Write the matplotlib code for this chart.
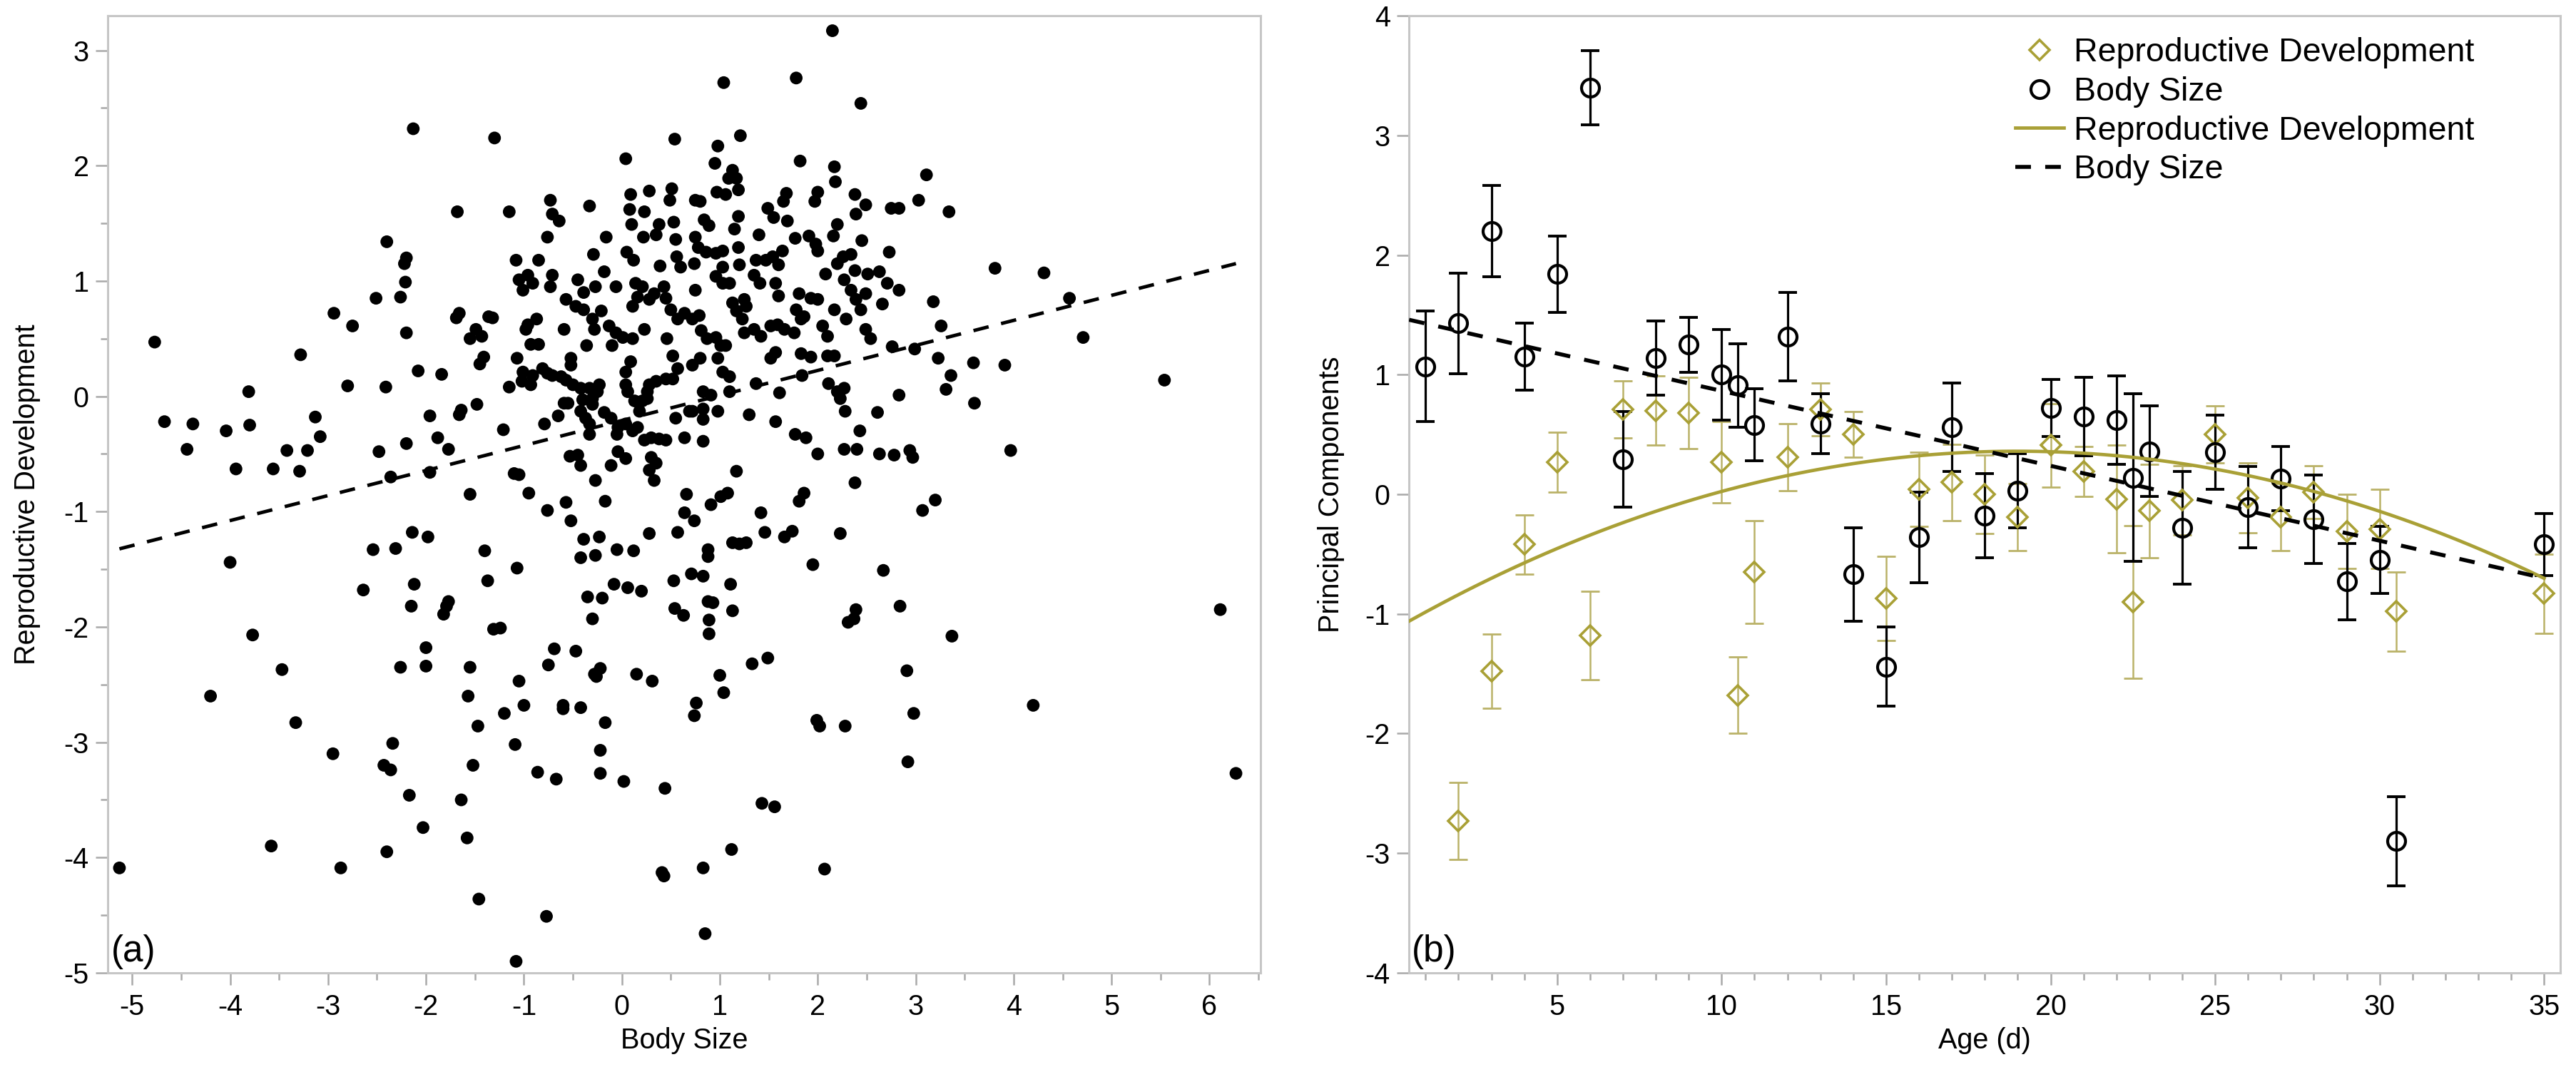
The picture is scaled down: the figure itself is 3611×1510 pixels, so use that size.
import numpy as np
import matplotlib.pyplot as plt
from matplotlib.ticker import MultipleLocator
from matplotlib.lines import Line2D

plt.rcParams["font.family"] = ["Liberation Sans", "DejaVu Sans"]
plt.rcParams["axes.unicode_minus"] = False

OLIVE = "#a9a036"
OLIVE_BAR = "#bab268"
SPINE = "#c6c6c6"
TICK = "#a9a9a9"

# ---- panel (a): individual scores (body size, reproductive development) ----
scatter_pts = np.array([
    # far left, above -1.27
    (-4.77, 0.47), (-2.13, 2.32), (-4.67, -0.22), (-4.38, -0.24), (-4.44, -0.46),
    (-4.04, -0.30), (-3.81, 0.04), (-3.80, -0.25), (-3.94, -0.63), (-3.56, -0.63),
    (-3.29, -0.65), (-3.42, -0.47), (-3.21, -0.47), (-3.28, 0.36), (-3.13, -0.18),
    (-3.08, -0.35), (-2.94, 0.72), (-2.75, 0.61), (-2.80, 0.09), (-2.51, 0.85),
    (-2.41, 0.08), (-2.48, -0.48), (-2.40, 1.34), (-2.26, 0.86), (-2.21, 0.99),
    (-2.22, 1.15), (-2.20, 1.20), (-2.20, 0.55), (-2.08, 0.22), (-2.20, -0.41),
    (-1.96, -0.17), (-2.36, -0.70), (-2.14, -1.18), (-1.98, -1.22), (-1.96, -0.66),
    # lower half, left
    (-4.00, -1.44), (-2.54, -1.33), (-2.31, -1.32), (-2.64, -1.68), (-2.12, -1.63),
    (-2.15, -1.82), (-1.77, -1.78), (-1.79, -1.82), (-1.82, -1.89), (-1.40, -1.34),
    (-1.37, -1.60), (-1.07, -1.49), (-1.31, -2.02), (-1.24, -2.01), (-2.00, -2.18),
    (-2.00, -2.34), (-2.26, -2.35), (-1.55, -2.35), (-1.57, -2.60), (-1.05, -2.47),
    (-1.00, -2.68), (-1.20, -2.75), (-1.47, -2.86), (-1.09, -3.02), (-1.52, -3.20),
    (-0.86, -3.26), (-0.67, -3.32), (-1.64, -3.50), (-1.58, -3.83), (-1.46, -4.36),
    (-0.77, -4.51), (-1.08, -4.90), (-2.03, -3.74), (-2.17, -3.46), (-2.40, -3.95),
    (-2.43, -3.20), (-2.36, -3.24), (-2.34, -3.01), (-2.95, -3.10), (-2.87, -4.09),
    (-3.58, -3.90), (-3.33, -2.83), (-3.47, -2.37), (-4.20, -2.60), (-3.77, -2.07),
    (-5.13, -4.09), (-0.75, -2.33), (-0.69, -2.19), (-0.47, -2.21), (-0.60, -2.68),
    (-0.60, -2.71), (-0.42, -2.70), (-0.17, -2.83), (-0.28, -2.41), (-0.22, -2.36),
    (-0.26, -2.43), (-0.22, -3.07), (-0.22, -3.27), (0.02, -3.34), (0.44, -3.40),
    (0.15, -2.41), (0.31, -2.47), (-0.30, -1.93), (-0.35, -1.74), (-0.20, -1.75),
    (-0.08, -1.63), (0.06, -1.66), (0.20, -1.69), (-0.05, -1.33), (0.12, -1.34),
    (-0.42, -1.40), (-0.27, -1.38), (0.53, -1.60), (0.71, -1.54), (0.83, -1.56),
    (0.54, -1.84), (0.63, -1.90), (0.76, -2.66), (0.74, -2.77), (0.41, -4.13),
    (0.43, -4.16), (0.83, -4.09), (0.85, -4.66), (0.88, -1.78), (0.89, -1.94),
    (0.89, -2.06), (0.88, -1.33), (0.88, -1.39),
    # lower half, right
    (1.13, -1.27), (1.20, -1.28), (1.27, -1.27), (1.95, -1.46), (2.67, -1.51),
    (1.11, -1.63), (0.93, -1.79), (1.13, -1.86), (2.84, -1.82), (2.39, -1.85),
    (2.37, -1.93), (2.31, -1.96), (3.37, -2.08), (6.11, -1.85), (1.49, -2.27),
    (1.33, -2.32), (1.00, -2.42), (1.04, -2.57), (2.91, -2.38), (4.20, -2.68),
    (2.98, -2.75), (1.99, -2.81), (2.02, -2.86), (2.28, -2.86), (2.92, -3.17),
    (6.27, -3.27), (1.43, -3.53), (1.56, -3.56), (1.12, -3.93), (2.07, -4.10),
    # far right and top
    (2.15, 3.17), (3.81, 1.11), (4.31, 1.07), (4.57, 0.85), (4.71, 0.51),
    (5.54, 0.14), (3.97, -0.47), (3.91, 0.27), (3.59, 0.29), (3.60, -0.06),
    # dense centre, left part
    (-1.30, 2.24), (0.54, 2.23), (0.04, 2.06), (-1.68, 1.60), (-1.15, 1.60),
    (-0.73, 1.70), (-0.71, 1.58), (-0.64, 1.52), (-0.33, 1.65), (0.09, 1.75),
    (0.28, 1.78), (0.51, 1.80), (0.49, 1.70), (0.08, 1.62), (0.23, 1.60),
    (0.10, 1.49), (0.38, 1.49), (0.35, 1.40), (0.53, 1.51), (0.55, 1.36),
    (0.22, 1.38), (-0.76, 1.38), (-0.16, 1.38), (-0.29, 1.23), (0.05, 1.25),
    (0.12, 1.18), (0.39, 1.13), (0.56, 1.21), (0.60, 1.12), (-1.08, 1.18),
    (-0.85, 1.18), (-1.05, 1.01), (-0.96, 1.05), (-1.01, 0.92), (-0.91, 0.98),
    (-0.71, 1.05), (-0.73, 0.95), (-0.45, 1.01), (-0.39, 0.90), (-0.27, 0.95),
    (-0.18, 1.08), (-0.06, 0.95), (-0.57, 0.84), (-0.47, 0.78), (-0.39, 0.75),
    (-0.21, 0.74), (-0.30, 0.67), (-0.28, 0.58), (-0.13, 0.61), (-0.06, 0.55),
    (0.01, 0.51), (-0.10, 0.44), (0.11, 0.50), (-0.36, 0.44), (0.23, 0.58),
    (0.14, 0.98), (0.21, 0.95), (0.16, 0.86), (0.11, 0.78), (0.28, 0.84),
    (0.33, 0.89), (0.43, 0.95), (0.45, 0.85), (0.50, 0.75), (0.57, 0.67),
    (0.64, 0.72), (0.46, 0.50), (0.52, 0.35), (0.57, 0.24), (0.52, 0.15),
    (0.45, 0.15), (0.35, 0.13), (0.28, 0.10), (0.26, 0.04), (0.09, 0.30),
    (0.04, 0.21), (0.04, 0.10), (0.06, 0.04), (0.13, -0.04), (0.21, -0.04),
    (0.26, -0.02), (0.18, -0.13), (0.55, -0.19), (0.69, -0.13), (0.64, -0.36),
    (-1.66, 0.72), (-1.69, 0.68), (-1.36, 0.69), (-1.32, 0.68), (-1.49, 0.58),
    (-1.55, 0.50), (-1.43, 0.52), (-1.45, 0.28), (-1.41, 0.34), (-0.96, 0.62),
    (-0.87, 0.67), (-0.98, 0.58), (-0.93, 0.45), (-0.85, 0.45), (-0.59, 0.58),
    (-1.07, 0.33), (-0.52, 0.33), (-0.52, 0.27), (-1.01, 0.21), (-0.91, 0.18),
    (-0.81, 0.24), (-0.76, 0.20), (-0.71, 0.18), (-0.62, 0.17), (-0.57, 0.14),
    (-0.50, 0.10), (-0.42, 0.07), (-0.33, 0.07), (-0.25, 0.04), (-0.23, 0.10),
    (-1.15, 0.08), (-1.02, 0.13), (-0.93, 0.10), (-1.84, 0.19), (-1.64, -0.12),
    (-1.66, -0.16), (-1.48, -0.07), (-1.88, -0.36), (-1.77, -0.46), (-1.21, -0.29),
    (-1.10, -0.67), (-1.05, -0.68), (-1.55, -0.85), (-0.95, -0.84), (-0.76, -0.99),
    (-0.57, -0.92), (-0.52, -1.08), (-0.79, -0.24), (-0.65, -0.17), (-0.59, -0.06),
    (-0.55, -0.06), (-0.42, -0.13), (-0.37, -0.19), (-0.33, -0.24), (-0.33, -0.33),
    (-0.30, -0.07), (-0.40, -0.03), (-0.30, -0.02), (-0.18, -0.14), (-0.11, -0.19),
    (-0.04, -0.27), (0.04, -0.24), (0.11, -0.30), (0.16, -0.27), (-0.05, -0.33),
    (0.23, -0.38), (0.30, -0.36), (0.38, -0.37), (0.45, -0.38), (0.30, -0.53),
    (0.35, -0.58), (0.28, -0.64), (0.33, -0.73), (-0.53, -0.52), (-0.45, -0.51),
    (-0.42, -0.60), (-0.11, -0.60), (-0.04, -0.48), (0.04, -0.54), (-0.27, -0.73),
    (-0.17, -0.91), (0.66, -0.85), (0.64, -1.01), (0.28, -1.19), (0.57, -1.18),
    (-0.39, -1.24), (-0.23, -1.22),
    # dense centre, right part
    (1.04, 2.72), (1.78, 2.76), (2.44, 2.54), (1.21, 2.26), (0.98, 2.17),
    (0.95, 2.02), (1.82, 2.04), (2.17, 1.99), (2.18, 1.86), (3.11, 1.92),
    (1.13, 1.96), (1.09, 1.89), (1.17, 1.89), (0.97, 1.77), (1.06, 1.75),
    (1.19, 1.79), (0.75, 1.70), (0.80, 1.69), (1.68, 1.76), (1.65, 1.69),
    (2.00, 1.77), (1.97, 1.69), (2.38, 1.75), (2.49, 1.66), (2.39, 1.58),
    (2.75, 1.63), (2.83, 1.63), (3.03, 1.70), (3.34, 1.60), (1.49, 1.63),
    (1.55, 1.55), (1.69, 1.52), (0.84, 1.53), (0.89, 1.48), (1.19, 1.56),
    (1.15, 1.45), (1.40, 1.40), (1.77, 1.37), (1.91, 1.39), (1.98, 1.32),
    (2.00, 1.26), (2.20, 1.49), (2.16, 1.39), (2.45, 1.35), (2.73, 1.25),
    (0.75, 1.38), (0.78, 1.29), (0.86, 1.25), (0.96, 1.24), (1.03, 1.26),
    (1.19, 1.29), (0.74, 1.15), (1.20, 1.14), (1.37, 1.18), (1.47, 1.18),
    (1.54, 1.21), (1.64, 1.26), (1.60, 1.14), (1.03, 1.12), (0.96, 1.04),
    (1.03, 0.98), (1.10, 0.98), (1.35, 1.05), (1.41, 0.98), (2.08, 1.06),
    (2.20, 1.15), (2.26, 1.21), (2.34, 1.23), (2.38, 1.09), (2.51, 1.06),
    (2.63, 1.08), (2.27, 1.01), (2.34, 0.92), (2.39, 0.84), (2.49, 0.89),
    (2.44, 0.75), (2.71, 0.98), (2.83, 0.92), (2.66, 0.80), (3.18, 0.82),
    (0.75, 0.92), (1.57, 0.98), (1.60, 0.87), (1.81, 0.89), (1.93, 0.85),
    (2.00, 0.84), (1.13, 0.81), (1.25, 0.84), (1.17, 0.74), (1.23, 0.67),
    (1.27, 0.78), (1.78, 0.75), (1.83, 0.67), (1.86, 0.69), (2.17, 0.75),
    (2.29, 0.67), (0.72, 0.67), (0.79, 0.70), (0.81, 0.57), (0.87, 0.50),
    (0.96, 0.51), (1.06, 0.44), (1.01, 0.44), (1.25, 0.55), (1.35, 0.58),
    (1.42, 0.52), (1.52, 0.61), (1.59, 0.62), (1.66, 0.58), (1.76, 0.55),
    (2.05, 0.61), (2.10, 0.52), (2.49, 0.58), (2.54, 0.50), (3.26, 0.61),
    (0.72, 0.27), (0.80, 0.33), (0.98, 0.33), (1.03, 0.21), (1.10, 0.17),
    (1.52, 0.33), (1.57, 0.38), (1.83, 0.37), (1.93, 0.34), (2.10, 0.35),
    (2.17, 0.35), (2.76, 0.43), (2.99, 0.41), (3.23, 0.33), (3.36, 0.18),
    (3.31, 0.06), (1.37, 0.11), (1.84, 0.18), (1.61, 0.03), (2.11, 0.11),
    (2.20, 0.04), (2.27, 0.07), (2.23, -0.02), (2.83, 0.01), (0.83, 0.04),
    (0.91, 0.01), (1.10, 0.04), (0.72, -0.13), (0.83, -0.11), (0.98, -0.13),
    (0.83, -0.20), (1.30, -0.16), (1.57, -0.22), (2.28, -0.13), (2.61, -0.14),
    (2.43, -0.30), (0.83, -0.39), (1.77, -0.33), (1.88, -0.36), (2.00, -0.50),
    (2.27, -0.46), (2.40, -0.46), (2.63, -0.50), (2.78, -0.51), (2.94, -0.47),
    (2.97, -0.53), (1.17, -0.65), (2.38, -0.75), (0.74, -1.08), (0.91, -0.94),
    (1.01, -0.87), (1.08, -0.84), (1.42, -1.01), (1.81, -0.91), (1.86, -0.84),
    (3.20, -0.90), (3.07, -0.99), (1.46, -1.18), (1.66, -1.22), (1.74, -1.17),
    (2.23, -1.19),
])
body_size = scatter_pts[:, 0]
repro_dev = scatter_pts[:, 1]

# dashed regression line in (a)
fit_a_intercept = -0.21
fit_a_slope = 0.217

# ---- panel (b): means by age with error bars ----
repro_age = [2, 3, 4, 5, 6, 7, 8, 9, 10, 10.5, 11, 12, 13, 14, 15, 16, 17,
             18, 19, 20, 21, 22, 22.5, 23, 24, 25, 26, 27, 28, 29, 30, 30.5, 35]
repro_mean = [-2.73, -1.48, -0.42, 0.27, -1.18, 0.71, 0.70, 0.68, 0.27, -1.68,
              -0.65, 0.31, 0.71, 0.50, -0.87, 0.04, 0.10, 0.00, -0.19, 0.41,
              0.19, -0.04, -0.90, -0.14, -0.05, 0.50, -0.03, -0.19, 0.02, -0.31,
              -0.29, -0.98, -0.83]
repro_err = [0.32, 0.31, 0.25, 0.25, 0.37, 0.24, 0.29, 0.30, 0.34, 0.32, 0.43,
             0.28, 0.22, 0.19, 0.35, 0.31, 0.32, 0.33, 0.28, 0.35, 0.21, 0.45,
             0.64, 0.39, 0.29, 0.24, 0.29, 0.28, 0.22, 0.31, 0.33, 0.33, 0.33]

body_age = [1, 2, 3, 4, 5, 6, 7, 8, 9, 10, 10.5, 11, 12, 13, 14, 15, 16, 17,
            18, 19, 20, 21, 22, 22.5, 23, 24, 25, 26, 27, 28, 29, 30, 30.5, 35]
body_mean = [1.07, 1.43, 2.20, 1.15, 1.84, 3.40, 0.29, 1.14, 1.25, 1.00, 0.91,
             0.58, 1.32, 0.59, -0.67, -1.44, -0.36, 0.56, -0.18, 0.03, 0.72,
             0.65, 0.62, 0.14, 0.36, -0.28, 0.35, -0.11, 0.13, -0.21, -0.73,
             -0.55, -2.90, -0.42]
body_err = [0.46, 0.42, 0.38, 0.28, 0.32, 0.31, 0.40, 0.31, 0.23, 0.38, 0.35,
            0.30, 0.37, 0.25, 0.39, 0.33, 0.38, 0.37, 0.35, 0.31, 0.24, 0.33,
            0.37, 0.70, 0.38, 0.47, 0.31, 0.34, 0.27, 0.37, 0.32, 0.28, 0.37,
            0.26]

# fitted trends in (b)
body_fit_intercept = 1.49
body_fit_slope = -0.0626
repro_peak_age = 19.0
repro_peak = 0.36
repro_curv = -0.00415


def style_axis(ax):
    for spine in ax.spines.values():
        spine.set_color(SPINE)
        spine.set_linewidth(2.2)
    ax.tick_params(which="both", direction="out", color=TICK, width=1.8,
                   labelsize=28.5, top=False, right=False)
    ax.tick_params(which="major", length=12)
    ax.tick_params(which="minor", length=7)
    ax.tick_params(axis="x", pad=9)
    ax.tick_params(axis="y", pad=7)


fig = plt.figure(figsize=(36.11, 15.10), dpi=100)
ax1 = fig.add_axes([0.0418, 0.0967, 0.4475, 0.8887])
ax2 = fig.add_axes([0.547, 0.0967, 0.447, 0.8887])

# (a)
ax1.scatter(body_size, repro_dev, s=165, color="black", edgecolors="none", zorder=3)
xs = np.linspace(body_size.min(), body_size.max(), 100)
ax1.plot(xs, fit_a_intercept + fit_a_slope * xs, color="black", lw=3.5,
         linestyle=(0, (4.5, 3.7)), zorder=4)
ax1.set_xlim(-5.25, 6.52)
ax1.set_ylim(-5, 3.3)
ax1.xaxis.set_major_locator(MultipleLocator(1))
ax1.xaxis.set_minor_locator(MultipleLocator(0.5))
ax1.yaxis.set_major_locator(MultipleLocator(1))
ax1.yaxis.set_minor_locator(MultipleLocator(0.5))
style_axis(ax1)
ax1.set_xlabel("Body Size", fontsize=28.5)
ax1.set_ylabel("Reproductive Development", fontsize=28.5)
ax1.xaxis.set_label_coords(0.5, -0.057)
ax1.yaxis.set_label_coords(-0.058, 0.5)
ax1.text(0.003, 0.004, "(a)", transform=ax1.transAxes, fontsize=37,
         ha="left", va="bottom")

# (b)
ax2.errorbar(repro_age, repro_mean, yerr=repro_err, fmt="none", ecolor=OLIVE_BAR,
             elinewidth=1.8, capsize=9.5, capthick=2.0, zorder=2)
ax2.errorbar(body_age, body_mean, yerr=body_err, fmt="none", ecolor="black",
             elinewidth=2.3, capsize=9.5, capthick=2.8, zorder=3)
ax2.plot(repro_age, repro_mean, linestyle="none", marker="D", ms=14.5,
         mfc="none", mec=OLIVE, mew=2.6, zorder=4)
ax2.plot(body_age, body_mean, linestyle="none", marker="o", ms=18,
         mfc="none", mec="black", mew=3.0, zorder=4)

ages = np.linspace(0.5, 35, 200)
ax2.plot(ages, repro_peak + repro_curv * (ages - repro_peak_age) ** 2,
         color=OLIVE, lw=3.4, zorder=5)
ax2.plot(ages, body_fit_intercept + body_fit_slope * ages, color="black", lw=4,
         linestyle=(0, (3.95, 3.6)), zorder=6)

ax2.set_xlim(0.5, 35.5)
ax2.set_ylim(-4, 4)
ax2.xaxis.set_major_locator(MultipleLocator(5))
ax2.xaxis.set_minor_locator(MultipleLocator(1))
ax2.yaxis.set_major_locator(MultipleLocator(1))
style_axis(ax2)
ax2.set_xlabel("Age (d)", fontsize=28.5)
ax2.set_ylabel("Principal Components", fontsize=28.5)
ax2.xaxis.set_label_coords(0.5, -0.057)
ax2.yaxis.set_label_coords(-0.056, 0.5)
ax2.text(0.002, 0.004, "(b)", transform=ax2.transAxes, fontsize=37,
         ha="left", va="bottom")

handles = [
    Line2D([], [], linestyle="none", marker="D", ms=14.5, mfc="none", mec=OLIVE, mew=2.6),
    Line2D([], [], linestyle="none", marker="o", ms=18, mfc="none", mec="black", mew=3.0),
    Line2D([], [], color=OLIVE, lw=3.4),
    Line2D([], [], color="black", lw=4, linestyle=(0, (3.95, 3.6))),
]
labels = ["Reproductive Development", "Body Size",
          "Reproductive Development", "Body Size"]
ax2.legend(handles, labels, loc="upper left", bbox_to_anchor=(0.5266, 0.9776),
           frameon=False, fontsize=33.5, borderpad=0, borderaxespad=0,
           handlelength=1.46, handletextpad=0.3, labelspacing=0.23)

fig.savefig("out.png", dpi=100)
